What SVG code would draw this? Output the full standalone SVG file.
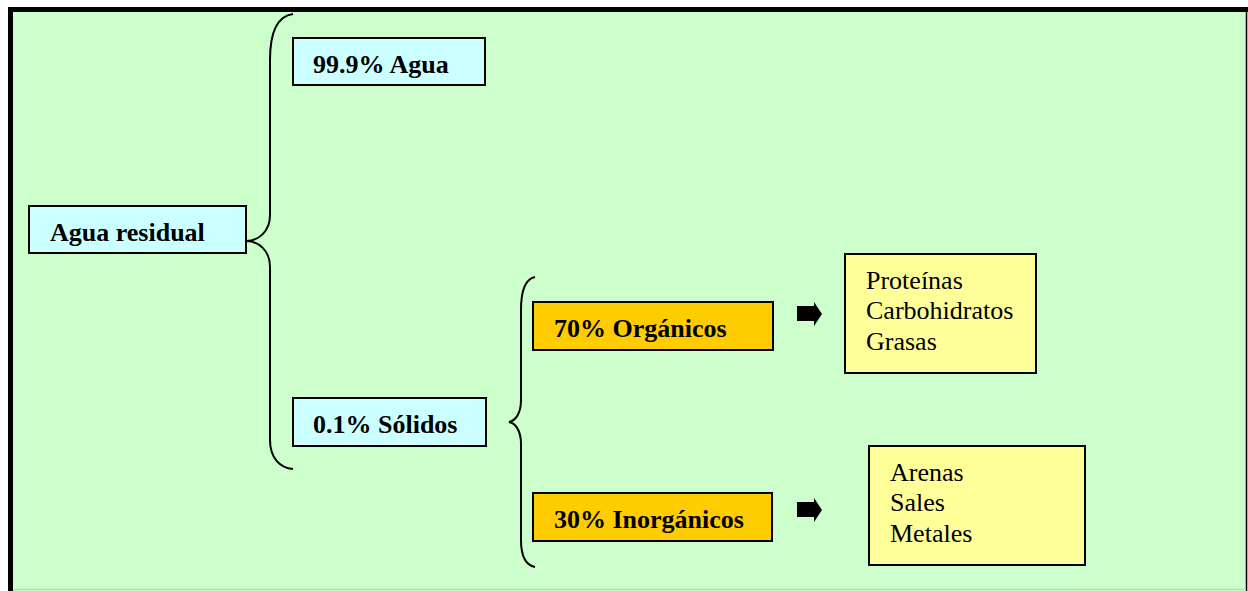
<svg xmlns="http://www.w3.org/2000/svg" width="1248" height="591" viewBox="0 0 1248 591">
  <style>
    .box { stroke: #000; stroke-width: 2; }
    .cyan { fill: #CCFFFF; }
    .orange { fill: #FFCC00; }
    .yellow { fill: #FFFF99; }
    .lbl { font-family: "Liberation Serif", "Times New Roman", serif; font-size: 26px; font-weight: bold; fill: #000; }
    .item { font-family: "Liberation Serif", "Times New Roman", serif; font-size: 26px; fill: #000; }
    .brace { fill: none; stroke: #000; stroke-width: 2; }
  </style>

  <!-- frame -->
  <rect x="0" y="0" width="1248" height="591" fill="#FFFFFF"/>
  <rect x="8" y="7" width="1240" height="584" fill="#CCFFCC"/>
  <rect x="8" y="7" width="1240" height="5" fill="#000"/>
  <rect x="8" y="7" width="5" height="584" fill="#000"/>
  <line x1="1246.5" y1="7" x2="1246.5" y2="591" stroke="#000" stroke-width="1.5"/>
  <line x1="13" y1="589.5" x2="1246" y2="589.5" stroke="#B4DDB4" stroke-width="1.5"/>

  <!-- connectors: braces and block arrows -->
  <g id="connectors">
    <path class="brace" d="M293,14 C278,16 270,30 270,60 L270,215 C270,232 258,241 246,241 C258,241 270,250 270,267 L270,440 C270,458 280,468 293,469"/>
    <path class="brace" d="M535,277 C525,279 521,290 521,310 L521,400 C521,414 515,421 509,422 C515,423 521,430 521,444 L521,540 C521,556 525,565 535,567"/>
    <polygon points="797,306 814,306 814,302 822,314 814,326 814,321 797,321" fill="#000"/>
    <polygon points="797,502 814,502 814,498 822,510 814,522 814,517 797,517" fill="#000"/>
  </g>

  <g id="agua-residual">
    <rect class="box cyan" x="29" y="206" width="217" height="47"/>
    <text class="lbl" x="50" y="241">Agua residual</text>
  </g>

  <g id="agua">
    <rect class="box cyan" x="293" y="38" width="192" height="47"/>
    <text class="lbl" x="313" y="73">99.9% Agua</text>
  </g>

  <g id="solidos">
    <rect class="box cyan" x="293" y="398" width="193" height="48"/>
    <text class="lbl" x="313" y="433">0.1% Sólidos</text>
  </g>

  <g id="organicos">
    <rect class="box orange" x="533" y="302" width="240" height="48"/>
    <text class="lbl" x="554" y="337">70% Orgánicos</text>
  </g>

  <g id="inorganicos">
    <rect class="box orange" x="533" y="493" width="239" height="48"/>
    <text class="lbl" x="554" y="528">30% Inorgánicos</text>
  </g>

  <g id="organicos-lista">
    <rect class="box yellow" x="845" y="254" width="191" height="119"/>
    <text class="item" x="866" y="289">Proteínas</text>
    <text class="item" x="866" y="319">Carbohidratos</text>
    <text class="item" x="866" y="350">Grasas</text>
  </g>

  <g id="inorganicos-lista">
    <rect class="box yellow" x="869" y="446" width="216" height="119"/>
    <text class="item" x="890" y="481">Arenas</text>
    <text class="item" x="890" y="511">Sales</text>
    <text class="item" x="890" y="542">Metales</text>
  </g>
</svg>
